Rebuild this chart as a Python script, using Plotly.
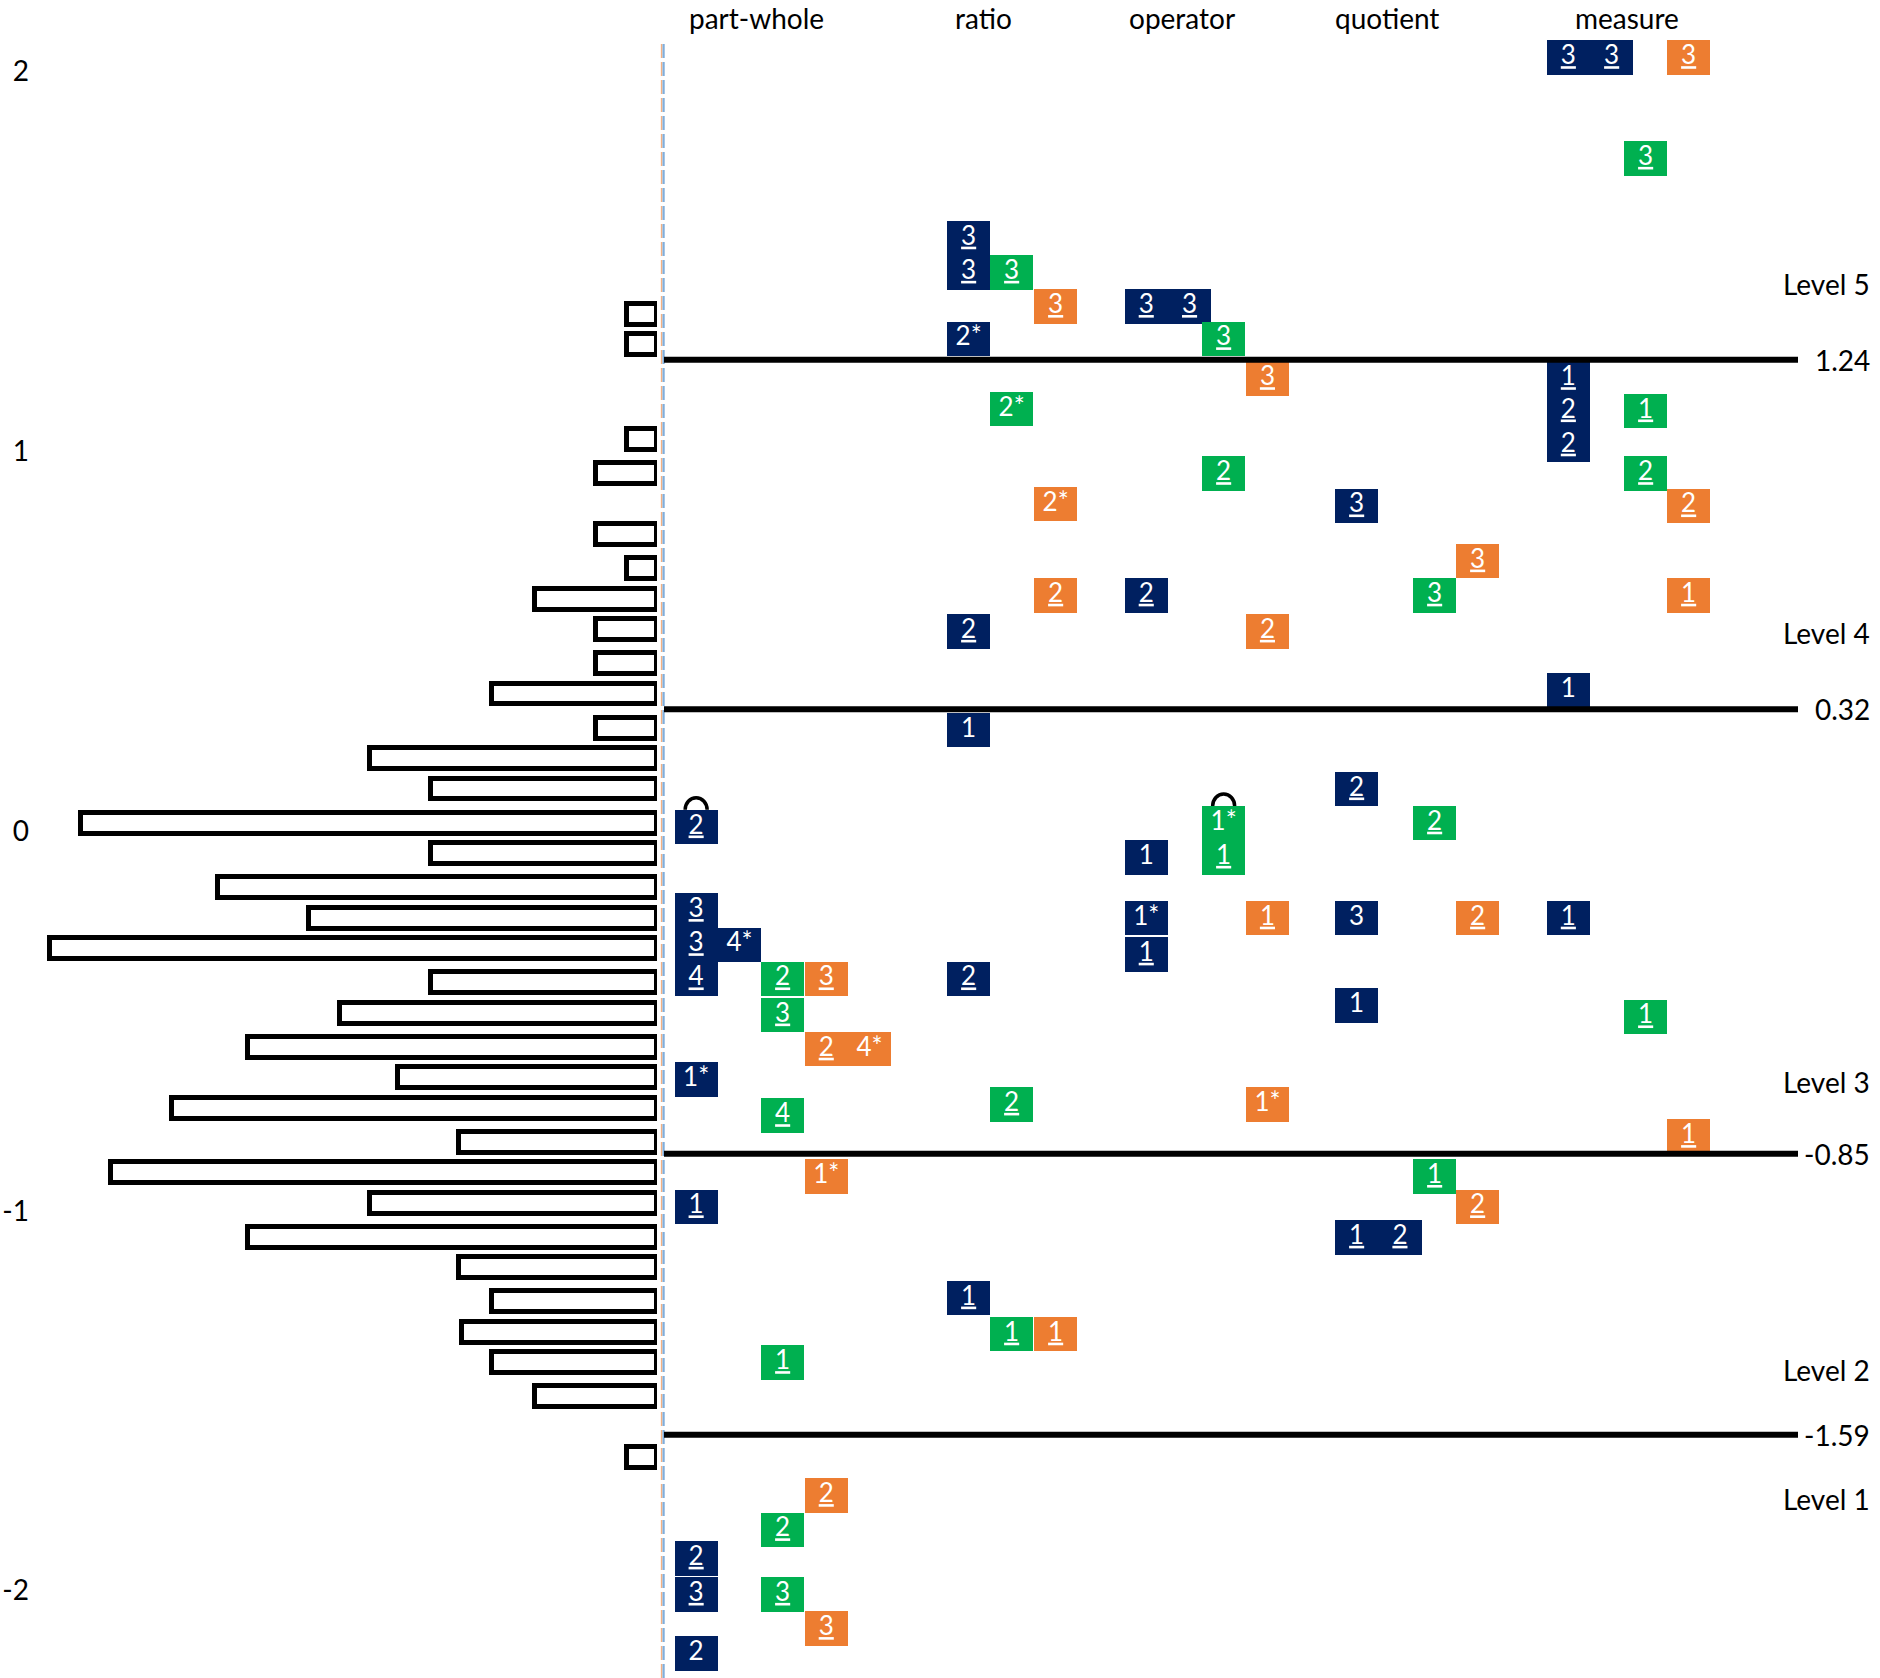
import plotly.graph_objects as go

# ---------------- data ----------------
FRAMEWORKS = ["part-whole", "ratio", "operator", "quotient", "measure"]

# item locations (logits), colour group (B = blue, G = green, O = orange),
# sub-slot (0/1 for side-by-side items), label, underline flag
PW_LOGIT = [0.01, -0.21, -0.30, -0.30, -0.39, -0.39, -0.39, -0.485, -0.575, -0.575, -0.655,
            -0.75, -0.91, -0.99, -1.40, -1.75, -1.84, -1.915, -2.01, -2.01, -2.10, -2.165]
PW_GROUP = ["B", "B", "B", "B", "B", "G", "O", "G", "O", "O", "B",
            "G", "O", "B", "G", "O", "G", "B", "B", "G", "O", "B"]
PW_SUB = [0, 0, 0, 1, 0, 0, 0, 0, 0, 1, 0, 0, 0, 0, 0, 0, 0, 0, 0, 0, 0, 0]
PW_LABEL = ["2", "3", "3", "4*", "4", "2", "3", "3", "2", "4*", "1*",
            "4", "1*", "1", "1", "2", "2", "2", "3", "3", "3", "2"]
PW_UNDER = [1, 1, 1, 0, 1, 1, 1, 1, 1, 0, 0, 1, 0, 1, 1, 1, 1, 1, 1, 1, 1, 0]
PW_ARC = [1, 0, 0, 0, 0, 0, 0, 0, 0, 0, 0, 0, 0, 0, 0, 0, 0, 0, 0, 0, 0, 0]

R_LOGIT = [1.56, 1.47, 1.47, 1.38, 1.295, 1.11, 0.86, 0.62, 0.525, 0.265, -0.39, -0.72,
           -1.23, -1.325, -1.325]
R_GROUP = ["B", "B", "G", "O", "B", "G", "O", "O", "B", "B", "B", "G", "B", "G", "O"]
R_SUB = [0] * 15
R_LABEL = ["3", "3", "3", "3", "2*", "2*", "2*", "2", "2", "1", "2", "2", "1", "1", "1"]
R_UNDER = [1, 1, 1, 1, 0, 0, 0, 1, 1, 0, 1, 1, 1, 1, 1]
R_ARC = [0] * 15

O_LOGIT = [1.38, 1.38, 1.295, 1.19, 0.94, 0.62, 0.525, 0.02, -0.07, -0.07, -0.23, -0.325,
           -0.23, -0.72]
O_GROUP = ["B", "B", "G", "O", "G", "B", "O", "G", "G", "B", "B", "B", "O", "O"]
O_SUB = [0, 1, 0, 0, 0, 0, 0, 0, 0, 0, 0, 0, 0, 0]
O_LABEL = ["3", "3", "3", "3", "2", "2", "2", "1*", "1", "1", "1*", "1", "1", "1*"]
O_UNDER = [1, 1, 1, 1, 1, 1, 1, 0, 1, 0, 0, 1, 1, 0]
O_ARC = [0, 0, 0, 0, 0, 0, 0, 1, 0, 0, 0, 0, 0, 0]

Q_LOGIT = [0.855, 0.71, 0.62, 0.11, 0.02, -0.23, -0.23, -0.46, -0.91, -0.99, -1.07, -1.07]
Q_GROUP = ["B", "O", "G", "B", "G", "B", "O", "B", "G", "O", "B", "B"]
Q_SUB = [0, 0, 0, 0, 0, 0, 0, 0, 0, 0, 0, 1]
Q_LABEL = ["3", "3", "3", "2", "2", "3", "2", "1", "1", "2", "1", "2"]
Q_UNDER = [1, 1, 1, 1, 1, 0, 1, 0, 1, 1, 1, 1]
Q_ARC = [0] * 12

M_LOGIT = [2.035, 2.035, 2.035, 1.77, 1.19, 1.105, 1.015, 1.105, 0.94, 0.855, 0.62, 0.37,
           -0.23, -0.49, -0.805]
M_GROUP = ["B", "B", "O", "G", "B", "B", "B", "G", "G", "O", "O", "B", "B", "G", "O"]
M_SUB = [0, 1, 0, 0, 0, 0, 0, 0, 0, 0, 0, 0, 0, 0, 0]
M_LABEL = ["3", "3", "3", "3", "1", "2", "2", "1", "2", "2", "1", "1", "1", "1", "1"]
M_UNDER = [1, 1, 1, 1, 1, 1, 1, 1, 1, 1, 1, 0, 1, 1, 1]
M_ARC = [0] * 15

# person distribution (bin centre in logits, bar length)
PERSON_LOGIT = [1.36, 1.28, 1.03, 0.94, 0.78, 0.69, 0.61, 0.53, 0.44, 0.36, 0.27, 0.19,
                0.11, 0.02, -0.06, -0.15, -0.23, -0.31, -0.40, -0.48, -0.57, -0.65,
                -0.73, -0.82, -0.90, -0.98, -1.07, -1.15, -1.24, -1.32, -1.40, -1.49, -1.65]
PERSON_COUNT = [1.0, 1.0, 1.0, 2.0, 2.0, 1.0, 4.0, 2.0, 2.0, 5.4, 2.0, 9.4,
                7.4, 18.9, 7.4, 14.4, 11.4, 19.9, 7.4, 10.4, 13.4, 8.5,
                15.9, 6.5, 17.9, 9.4, 13.4, 6.5, 5.4, 6.4, 5.4, 4.0, 1.0]

THRESHOLDS = [1.24, 0.32, -0.85, -1.59]
THRESHOLD_TEXT = ["1.24", "0.32", "-0.85", "-1.59"]
LEVELS = ["Level 5", "Level 4", "Level 3", "Level 2", "Level 1"]
LEVEL_LOGIT = [1.44, 0.52, -0.66, -1.42, -1.76]
Y_TICKS = [-2, -1, 0, 1, 2]

# ---------------- layout constants ----------------
COLORS = {"B": "#002060", "G": "#00B050", "O": "#ED7D31"}
FONT = "Lato, 'Open Sans', sans-serif"
W, H = 1880, 1678
ML = 30
PX_PER_LOGIT = 379.9
Y_ZERO_PX = 830.8
Y_RANGE = [-(H - Y_ZERO_PX) / PX_PER_LOGIT, Y_ZERO_PX / PX_PER_LOGIT]
BOX_W = 43.3
BOX_H = 34.5 / PX_PER_LOGIT
FW_LEFT = {
    "part-whole": {"B": 674.5, "G": 761.0, "O": 804.6},
    "ratio": {"B": 947.0, "G": 990.0, "O": 1034.0},
    "operator": {"B": 1124.6, "G": 1202.0, "O": 1245.8},
    "quotient": {"B": 1335.0, "G": 1413.0, "O": 1456.0},
    "measure": {"B": 1546.7, "G": 1624.0, "O": 1667.0},
}
HEADER_X = [756.6, 983.0, 1181.6, 1387.0, 1627.0]
HIST_BASE_PX = 657.0
HIST_UNIT_PX = 30.5
LINE_X0, LINE_X1 = 664.0, 1798.0
LABEL_RIGHT = 1872.0

ITEMS = {
    "part-whole": (PW_LOGIT, PW_GROUP, PW_SUB, PW_LABEL, PW_UNDER, PW_ARC),
    "ratio": (R_LOGIT, R_GROUP, R_SUB, R_LABEL, R_UNDER, R_ARC),
    "operator": (O_LOGIT, O_GROUP, O_SUB, O_LABEL, O_UNDER, O_ARC),
    "quotient": (Q_LOGIT, Q_GROUP, Q_SUB, Q_LABEL, Q_UNDER, Q_ARC),
    "measure": (M_LOGIT, M_GROUP, M_SUB, M_LABEL, M_UNDER, M_ARC),
}

fig = go.Figure()

# person histogram
fig.add_trace(go.Bar(
    orientation="h", x=PERSON_COUNT, y=PERSON_LOGIT, width=0.055,
    marker=dict(color="white", line=dict(color="black", width=5)),
    xaxis="x2", yaxis="y", hoverinfo="skip", showlegend=False))

# item boxes, labels
box = {g: {"x": [], "base": []} for g in COLORS}
tx, ty, tt = [], [], []
shapes = []
for fw in FRAMEWORKS:
    lg, gr, sb, lb, un, ar = ITEMS[fw]
    for v, g, s, l, u, a in zip(lg, gr, sb, lb, un, ar):
        xc = FW_LEFT[fw][g] + BOX_W * (s + 0.5)
        box[g]["x"].append(xc)
        box[g]["base"].append(v - BOX_H / 2)
        tx.append(xc)
        ty.append(v)
        tt.append(f"<u>{l}</u>" if u else l)
        if a:
            r = 11.0
            rv = 12.0 / PX_PER_LOGIT
            y0 = v + BOX_H / 2
            k = 0.5523
            path = (f"M {xc - r},{y0} C {xc - r},{y0 + k * rv} {xc - k * r},{y0 + rv} {xc},{y0 + rv} "
                    f"C {xc + k * r},{y0 + rv} {xc + r},{y0 + k * rv} {xc + r},{y0}")
            shapes.append(dict(type="path", path=path, xref="x", yref="y",
                               line=dict(color="black", width=3.5)))

for g, col in COLORS.items():
    n = len(box[g]["x"])
    fig.add_trace(go.Bar(
        x=box[g]["x"], y=[BOX_H] * n, base=box[g]["base"], width=BOX_W,
        marker=dict(color=col, line=dict(width=0)),
        xaxis="x", yaxis="y", hoverinfo="skip", showlegend=False))

fig.add_trace(go.Scatter(
    x=tx, y=ty, text=tt, mode="text", textposition="middle center",
    textfont=dict(family=FONT, size=26, color="white"),
    hoverinfo="skip", showlegend=False))

# dashed axis line
top_paper = 1 - 42 / H
shapes.append(dict(type="line", xref="x", yref="paper", x0=661.6, x1=661.6, y0=0, y1=top_paper,
                   line=dict(color="#F4B183", width=1.5, dash="14px,4px")))
shapes.append(dict(type="line", xref="x", yref="paper", x0=663.6, x1=663.6, y0=0, y1=top_paper,
                   line=dict(color="#7FAEDC", width=2.2, dash="14px,4px")))

# thresholds
for t in THRESHOLDS:
    shapes.append(dict(type="line", xref="x", yref="y", x0=LINE_X0, x1=LINE_X1, y0=t, y1=t,
                       line=dict(color="black", width=6)))

ann = []
for t, s in zip(THRESHOLDS, THRESHOLD_TEXT):
    ann.append(dict(x=LABEL_RIGHT, y=t, xref="x", yref="y", text=s, showarrow=False,
                    xanchor="right", yanchor="middle", font=dict(family=FONT, size=28, color="black")))
for lv, p in zip(LEVELS, LEVEL_LOGIT):
    ann.append(dict(x=LABEL_RIGHT, y=p, xref="x", yref="y", text=lv, showarrow=False,
                    xanchor="right", yanchor="middle", font=dict(family=FONT, size=28, color="black")))
for name, hx in zip(FRAMEWORKS, HEADER_X):
    ann.append(dict(x=hx, y=1 - 18 / H, xref="x", yref="paper", text=name, showarrow=False,
                    xanchor="center", yanchor="middle", font=dict(family=FONT, size=28, color="black")))

fig.update_layout(
    width=W, height=H,
    margin=dict(l=ML, r=0, t=0, b=0),
    paper_bgcolor="white", plot_bgcolor="white",
    barmode="overlay", bargap=0,
    showlegend=False,
    shapes=shapes, annotations=ann,
    xaxis=dict(range=[ML, W], domain=[0, 1], visible=False, fixedrange=True),
    xaxis2=dict(range=[(HIST_BASE_PX - ML) / HIST_UNIT_PX, 0],
                domain=[0, (HIST_BASE_PX - ML) / (W - ML)], anchor="y", visible=False),
    yaxis=dict(range=Y_RANGE, tickvals=Y_TICKS, ticktext=[str(v) for v in Y_TICKS],
               showgrid=False, zeroline=False, showline=False, ticks="",
               tickfont=dict(family=FONT, size=28, color="black")),
)

fig.write_html("out.html", config={"displayModeBar": False},
               post_script="document.body.style.margin='0px';")
